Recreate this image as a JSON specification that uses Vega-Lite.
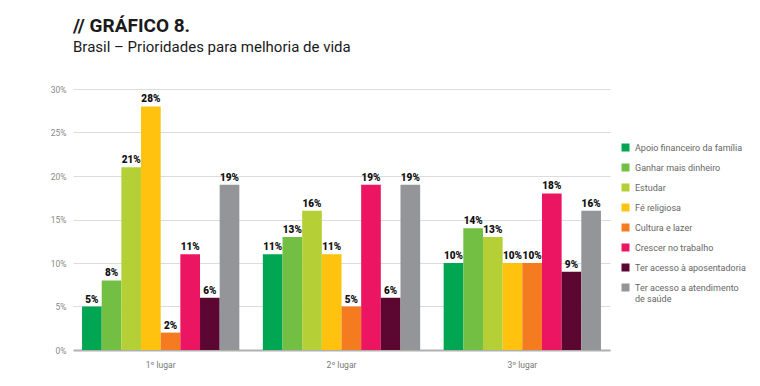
{
  "$schema": "https://vega.github.io/schema/vega-lite/v6.json",
  "width": 537,
  "height": 261,
  "autosize": {"type": "none"},
  "padding": {"left": 73, "top": 89, "right": 150, "bottom": 36},
  "background": "white",
  "title": {
    "text": "// GRÁFICO 8.",
    "subtitle": "Brasil – Prioridades para melhoria de vida",
    "anchor": "start",
    "frame": "group",
    "font": "Roboto",
    "fontSize": 19,
    "fontWeight": "bold",
    "color": "#1a1a1a",
    "subtitleFont": "Roboto",
    "subtitleFontSize": 15,
    "subtitleColor": "#1a1a1a",
    "subtitlePadding": 4,
    "offset": 30
  },
  "config": {"view": {"stroke": null}},
  "data": {
    "values": [
      {"lugar": "1º lugar", "item": "Apoio financeiro da família", "valor": 0.05},
      {"lugar": "1º lugar", "item": "Ganhar mais dinheiro", "valor": 0.08},
      {"lugar": "1º lugar", "item": "Estudar", "valor": 0.21},
      {"lugar": "1º lugar", "item": "Fé religiosa", "valor": 0.28},
      {"lugar": "1º lugar", "item": "Cultura e lazer", "valor": 0.02},
      {"lugar": "1º lugar", "item": "Crescer no trabalho", "valor": 0.11},
      {"lugar": "1º lugar", "item": "Ter acesso à aposentadoria", "valor": 0.06},
      {"lugar": "1º lugar", "item": "Ter acesso a atendimento de saúde", "valor": 0.19},
      {"lugar": "2º lugar", "item": "Apoio financeiro da família", "valor": 0.11},
      {"lugar": "2º lugar", "item": "Ganhar mais dinheiro", "valor": 0.13},
      {"lugar": "2º lugar", "item": "Estudar", "valor": 0.16},
      {"lugar": "2º lugar", "item": "Fé religiosa", "valor": 0.11},
      {"lugar": "2º lugar", "item": "Cultura e lazer", "valor": 0.05},
      {"lugar": "2º lugar", "item": "Crescer no trabalho", "valor": 0.19},
      {"lugar": "2º lugar", "item": "Ter acesso à aposentadoria", "valor": 0.06},
      {"lugar": "2º lugar", "item": "Ter acesso a atendimento de saúde", "valor": 0.19},
      {"lugar": "3º lugar", "item": "Apoio financeiro da família", "valor": 0.10},
      {"lugar": "3º lugar", "item": "Ganhar mais dinheiro", "valor": 0.14},
      {"lugar": "3º lugar", "item": "Estudar", "valor": 0.13},
      {"lugar": "3º lugar", "item": "Fé religiosa", "valor": 0.10},
      {"lugar": "3º lugar", "item": "Cultura e lazer", "valor": 0.10},
      {"lugar": "3º lugar", "item": "Crescer no trabalho", "valor": 0.18},
      {"lugar": "3º lugar", "item": "Ter acesso à aposentadoria", "valor": 0.09},
      {"lugar": "3º lugar", "item": "Ter acesso a atendimento de saúde", "valor": 0.16}
    ]
  },
  "encoding": {
    "x": {
      "field": "lugar",
      "type": "nominal",
      "sort": ["1º lugar", "2º lugar", "3º lugar"],
      "scale": {"paddingInner": 0.13, "paddingOuter": 0.05},
      "axis": {
        "title": null,
        "labelAngle": 0,
        "labelFont": "Roboto",
        "labelFontSize": 8.5,
        "labelColor": "#777",
        "labelPadding": 10,
        "ticks": false,
        "domainColor": "#b0b0b0",
        "domainWidth": 2
      }
    },
    "xOffset": {
      "field": "item",
      "sort": ["Apoio financeiro da família", "Ganhar mais dinheiro", "Estudar", "Fé religiosa", "Cultura e lazer", "Crescer no trabalho", "Ter acesso à aposentadoria", "Ter acesso a atendimento de saúde"],
      "scale": {"paddingInner": 0, "paddingOuter": 0}
    },
    "y": {
      "field": "valor",
      "type": "quantitative",
      "scale": {"domain": [0, 0.3], "nice": false},
      "axis": {
        "title": null,
        "format": ".0%",
        "values": [0, 0.05, 0.1, 0.15, 0.2, 0.25, 0.3],
        "domain": false,
        "ticks": false,
        "labelPadding": 7,
        "labelFont": "Roboto",
        "labelFontSize": 8.5,
        "labelColor": "#888",
        "gridColor": "#dcdcdc",
        "gridWidth": 1
      }
    }
  },
  "layer": [
    {
      "mark": {"type": "bar"},
      "encoding": {
        "color": {
          "field": "item",
          "type": "nominal",
          "sort": ["Apoio financeiro da família", "Ganhar mais dinheiro", "Estudar", "Fé religiosa", "Cultura e lazer", "Crescer no trabalho", "Ter acesso à aposentadoria", "Ter acesso a atendimento de saúde"],
          "scale": {"range": ["#00a651", "#72bf44", "#b5cf37", "#ffc20e", "#f47b20", "#ec1561", "#5c0632", "#939598"]},
          "legend": {
            "title": null,
            "orient": "none",
            "legendX": 548,
            "legendY": 54,
            "symbolType": "square",
            "symbolSize": 64,
            "symbolStrokeWidth": 0,
            "labelFont": "Roboto",
            "labelFontSize": 9,
            "labelColor": "#666",
            "labelOffset": 5,
            "rowPadding": 10,
            "labelLimit": 200,
            "labelExpr": "datum.label == 'Ter acesso a atendimento de saúde' ? ['Ter acesso a atendimento', 'de saúde'] : datum.label"
          }
        }
      }
    },
    {
      "mark": {"type": "text", "dy": -7, "font": "Roboto", "fontSize": 10, "fontWeight": "900", "color": "#111"},
      "encoding": {
        "text": {"field": "valor", "type": "quantitative", "format": ".0%"}
      }
    }
  ]
}
